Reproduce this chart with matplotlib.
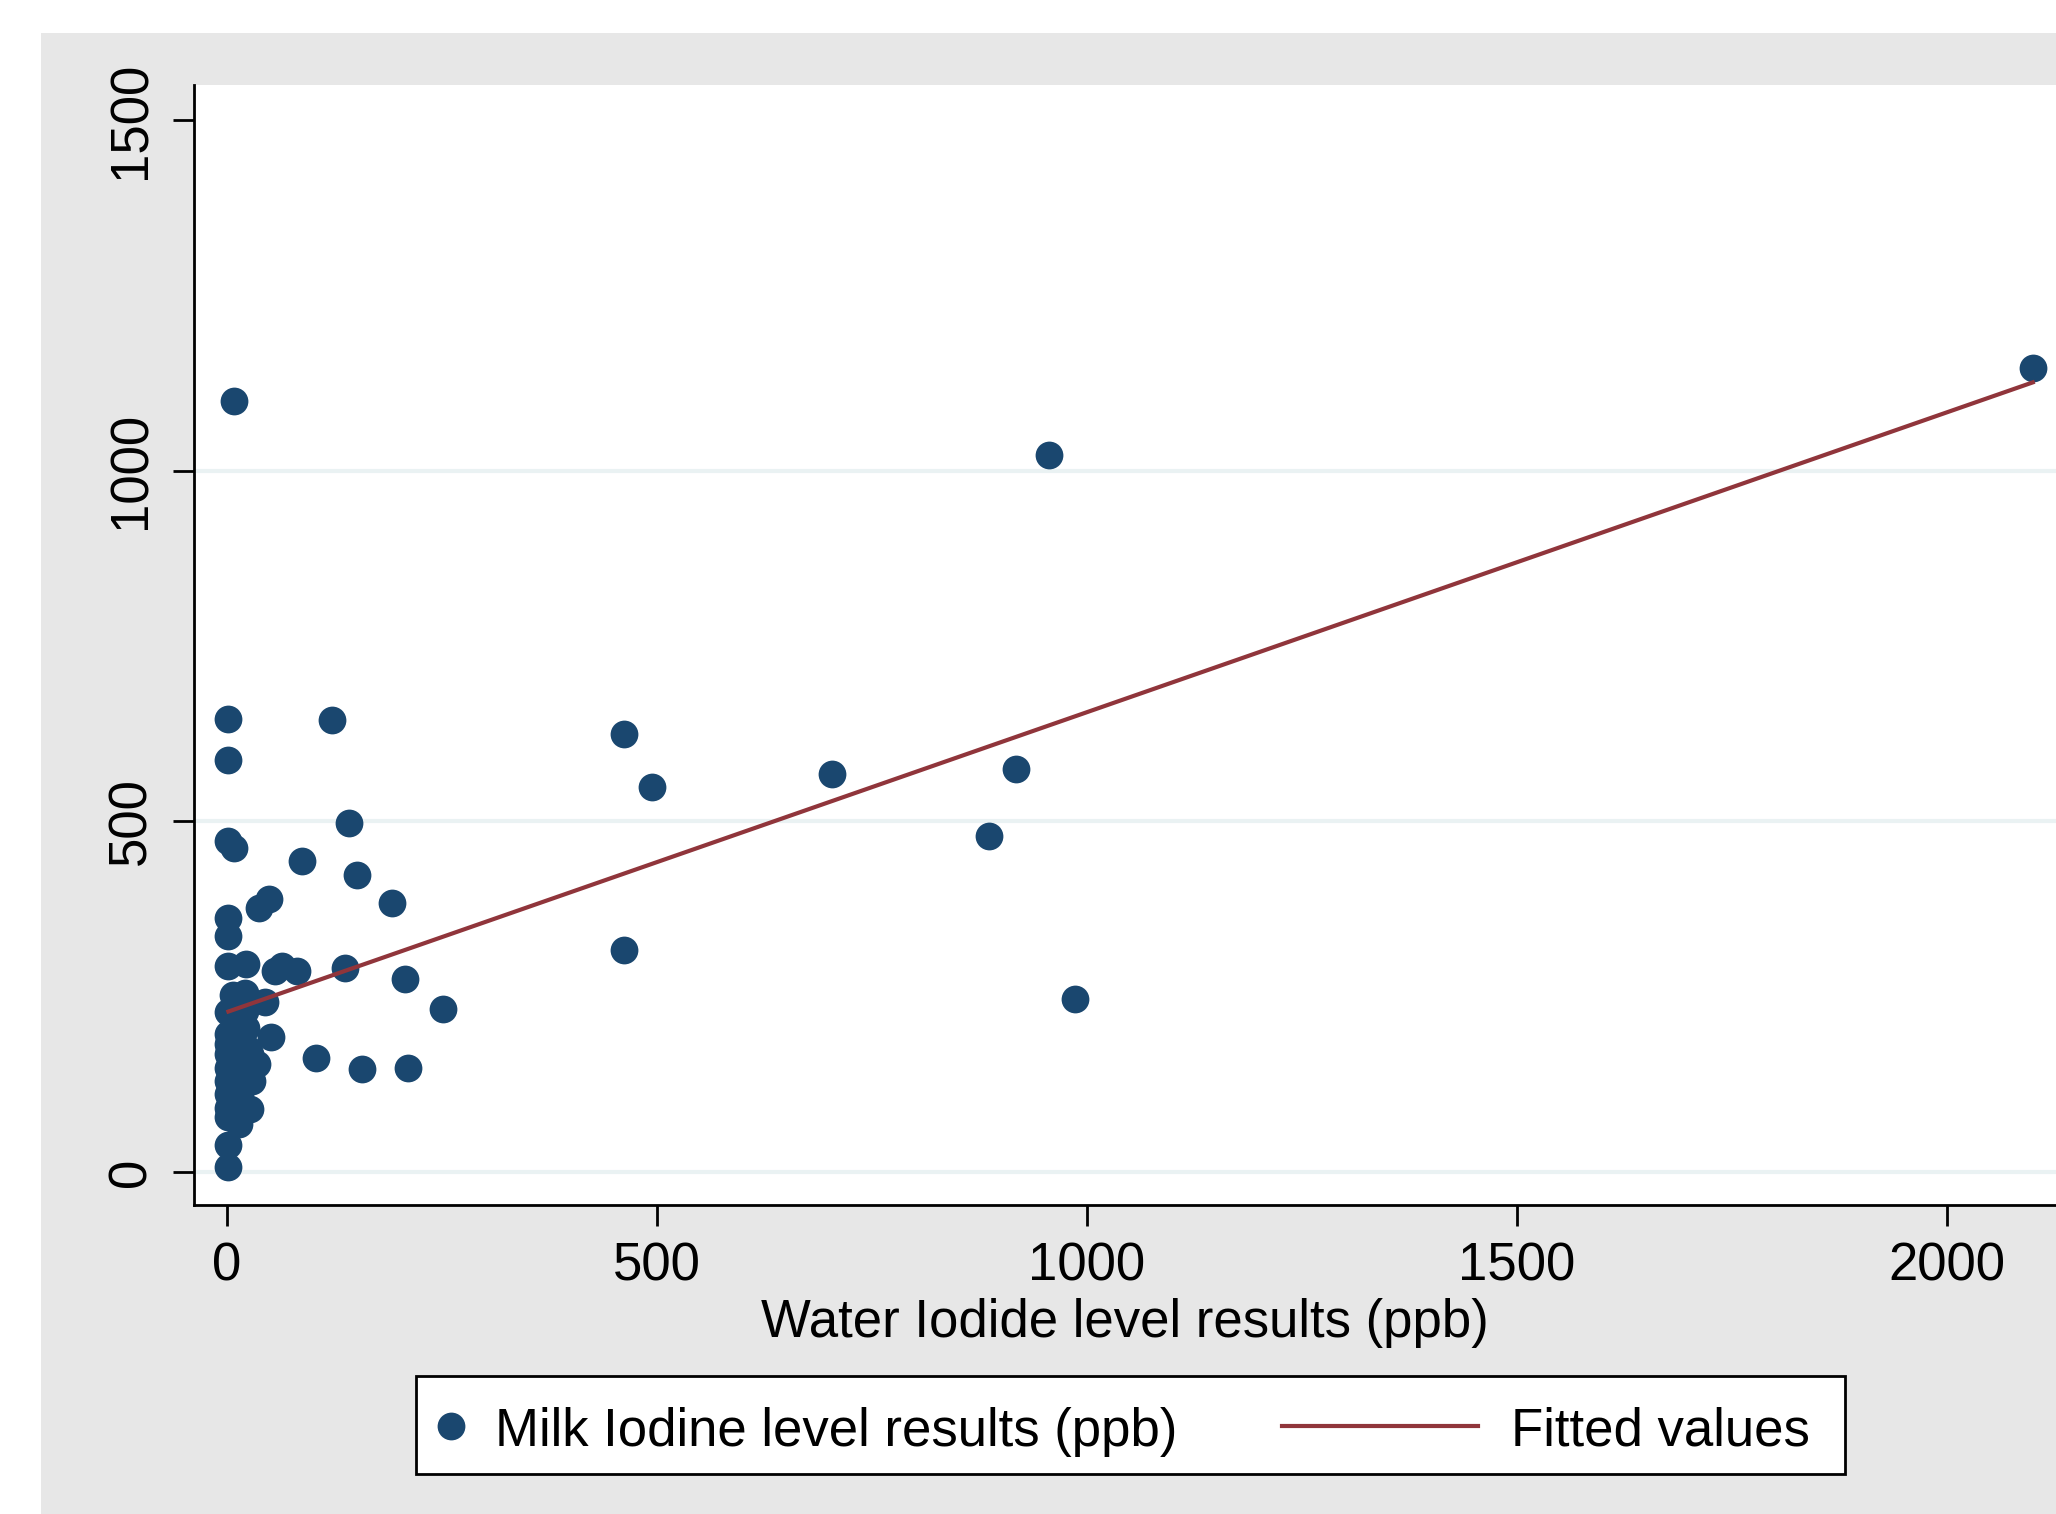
import numpy as np
import matplotlib
matplotlib.use('Agg')
import matplotlib.pyplot as plt
from matplotlib.patches import Rectangle
from matplotlib.lines import Line2D

plt.rcParams['font.family'] = ['Liberation Sans', 'DejaVu Sans']

# %% data (ppb)
water = [2100, 956, 918, 886, 986, 704, 462, 495, 462,
         8, 2, 2, 122, 2, 8, 142, 87, 151, 49, 37, 192,
         2, 2, 2, 23, 56, 64, 82, 138, 207, 252,
         104, 157, 211, 52, 44, 7, 21,
         2, 2, 2, 2, 2, 2, 2, 2, 2, 2, 2,
         30, 27, 35, 27, 23, 21, 19, 16, 14, 10, 12, 18, 25, 8, 6, 15, 20]
milk = [1146, 1022, 575, 479, 247, 567, 624, 549, 316,
        1099, 646, 588, 644, 472, 462, 498, 444, 423, 389, 377, 383,
        362, 336, 294, 296, 286, 294, 286, 291, 275, 233,
        162, 147, 149, 193, 243, 253, 255,
        7, 38, 197, 183, 169, 149, 130, 111, 92, 78, 228,
        130, 90, 154, 169, 206, 230, 244, 111, 69, 180, 120, 200, 175, 140, 100, 215, 160]

# fitted line
fit_intercept = 228
fit_slope = 0.4276

yticks = [0, 500, 1000, 1500]
xticks = [0, 500, 1000, 1500, 2000]
grid_at = [0, 500, 1000]
labels = ['Milk Iodine level results (ppb)', 'Fitted values']

navy = '#1a476f'
maroon = '#90353b'
W, H = 2056, 1514


def fx(px):
    return px / W


def fy(py):
    return 1 - py / H


# %% figure
fig = plt.figure(figsize=(W / 100, H / 100), dpi=100)
fig.patch.set_facecolor('white')
fig.add_artist(Rectangle((fx(41), 0), 1, fy(33), transform=fig.transFigure,
                         facecolor='#e7e7e7', edgecolor='none', zorder=-5))

ax = fig.add_axes([fx(194), fy(1205), 1 - fx(194), (1205 - 85) / H])
ax.set_zorder(2)
ax.set_facecolor('white')

for g in grid_at:
    ax.axhline(g, color='#eaf2f3', lw=3, zorder=1)

ax.plot(water, milk, 'o', color=navy, markersize=20, markeredgewidth=0, zorder=3)
xs = np.array([min(water), max(water)])
ax.plot(xs, fit_intercept + fit_slope * xs, color=maroon, lw=3, zorder=4)

ax.set_xlim(-38, 2127)
ax.set_ylim(-47, 1550)
ax.set_xticks(xticks)
ax.set_yticks(yticks)
ax.tick_params(axis='both', length=15, width=2, labelsize=38, pad=11)
ax.tick_params(axis='y', labelrotation=90, pad=12)
for lab in ax.get_yticklabels():
    lab.set_va('center')
ax.spines['top'].set_visible(False)
ax.spines['right'].set_visible(False)
ax.spines['left'].set_linewidth(2)
ax.spines['bottom'].set_linewidth(2)
ax.set_xlabel('Water Iodide level results (ppb)', fontsize=38, labelpad=5)

# %% legend box, drawn in figure pixels
fig.add_artist(Rectangle((fx(416), fy(1474)), fx(1845 - 416), (1474 - 1376) / H,
                         transform=fig.transFigure, facecolor='white',
                         edgecolor='black', lw=2, zorder=3))
fig.add_artist(Line2D([fx(451)], [fy(1426)], marker='o', color=navy, markersize=20,
                      markeredgewidth=0, transform=fig.transFigure, zorder=4))
fig.add_artist(Line2D([fx(1282), fx(1478)], [fy(1426), fy(1426)], color=maroon, lw=3,
                      transform=fig.transFigure, zorder=4))
fig.text(fx(495), fy(1446), labels[0], fontsize=38, va='baseline', ha='left', zorder=5)
fig.text(fx(1511), fy(1446), labels[1], fontsize=38, va='baseline', ha='left', zorder=5)

fig.savefig('out.png', dpi=100, facecolor=fig.get_facecolor())
